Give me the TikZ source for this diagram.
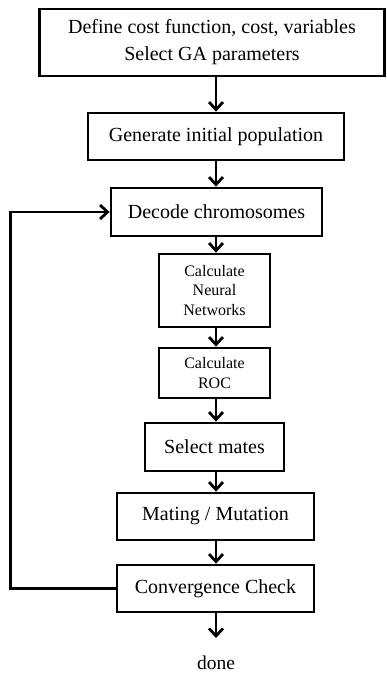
\documentclass[tikz,border=0pt]{standalone}
\usepackage{fontspec}
\setmainfont{Liberation Serif}
\usetikzlibrary{arrows.meta}
\begin{document}
\begin{tikzpicture}[x=1pt,y=-1pt,
  box/.style={draw,line width=2.8pt,inner sep=0pt,align=center,font=\fontsize{20}{27}\selectfont},
  smallbox/.style={box,font=\fontsize{16}{19.5}\selectfont},
  arr/.style={line width=2.8pt,-{Straight Barb[length=7.5pt,width=14pt,line width=2.8pt]}},
  line/.style={line width=2.8pt}]
\useasboundingbox (0,0) rectangle (386,675);
\coordinate (ax) at (216,0);
\node[box,minimum width=345pt,minimum height=67pt] (b1) at (212,42.5) {Define cost function, cost, variables\\Select GA parameters};
\node[box,minimum width=256pt,minimum height=47pt] (b2) at (216,136.5) {Generate initial population};
\node[box,minimum width=211pt,minimum height=48pt] (b3) at (216.5,212) {Decode chromosomes};
\node[smallbox,minimum width=111pt,minimum height=73pt] (b4) at (214.5,290.5) {Calculate\\Neural\\Networks};
\node[smallbox,minimum width=111pt,minimum height=50pt] (b5) at (214.5,373) {Calculate\\ROC};
\node[box,minimum width=139pt,minimum height=48pt] (b6) at (214.5,447) {Select mates};
\node[box,minimum width=197pt,minimum height=47pt] (b7) at (215.5,516.5) {Mating / Mutation};
\node[box,minimum width=197pt,minimum height=47pt] (b8) at (215.5,588.5) {Convergence Check};
\node[font=\fontsize{19.5}{24}\selectfont,inner sep=0pt] (done) at (216,663) {done};
\coordinate (dend) at (216,638);
\draw[arr] (b1.south -| ax) -- (b2.north -| ax);
\draw[arr] (b2.south -| ax) -- (b3.north -| ax);
\draw[arr] (b3.south -| ax) -- (b4.north -| ax);
\draw[arr] (b4.south -| ax) -- (b5.north -| ax);
\draw[arr] (b5.south -| ax) -- (b6.north -| ax);
\draw[arr] (b6.south -| ax) -- (b7.north -| ax);
\draw[arr] (b7.south -| ax) -- (b8.north -| ax);
\draw[arr] (b8.south -| ax) -- (dend);
\draw[arr] (b8.west) -- ++(-105,0) |- (b3.west);
\end{tikzpicture}
\end{document}
